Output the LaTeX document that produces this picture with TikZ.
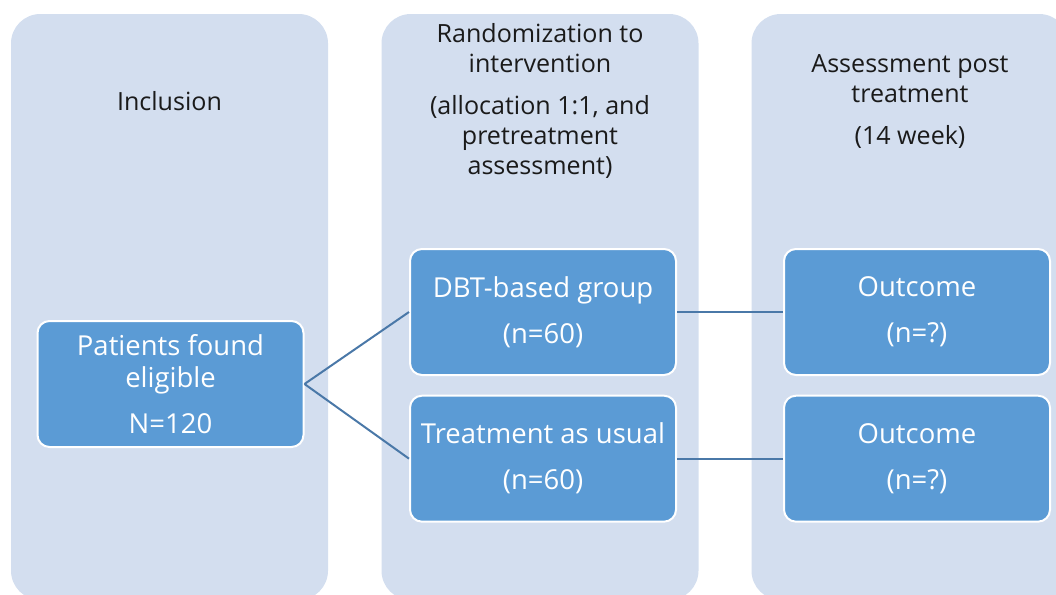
\documentclass[tikz,border=0pt]{standalone}
\usepackage{fontspec}
\setmainfont{Open Sans}
\usepackage{tikz}
\usetikzlibrary{positioning}
\definecolor{lanebg}{HTML}{D3DEEF}
\definecolor{boxblue}{HTML}{5B9BD5}
\definecolor{linkblue}{HTML}{4A78A8}
\definecolor{headtext}{HTML}{1A1A1A}

\begin{document}
\begin{tikzpicture}[
    x=0.75pt, y=-0.75pt,
    node distance=0mm,
    lane/.style={fill=lanebg, rounded corners=22pt, minimum width=237.75pt, minimum height=439.5pt, inner sep=0pt},
    head/.style={align=center, text=headtext, font=\fontsize{18.8}{22.5}\selectfont},
    field/.style={draw=white, line width=1.5pt, rounded corners=9pt, fill=boxblue, text=white, minimum width=199.5pt, minimum height=94.5pt, align=center, font=\fontsize{20.6}{24.5}\selectfont},
    link/.style={draw=linkblue, line width=1.5pt}
]
\clip (0,0) rectangle (1056,594);

% background lanes
\node[lane] (incl) at (169.5,307) {};
\node[lane] (rand) at (540,307) {};
\node[lane] (post) at (910,307) {};

% lane headings
\node[head] (h1) at (169.5,101) {Inclusion};
\node[head] (h2) at (540,101) {Randomization to\\intervention\\[9pt](allocation 1:1, and\\pretreatment\\assessment)};
\node[head] (h3) at (910,101) {Assessment post\\treatment\\[9pt](14 week)};

% boxes
\node[field] (elig) at (170.5,384) {Patients found\\eligible\\[10pt]N=120};
\node[field] (dbt) at (543,312) {DBT-based group\\[10pt](n=60)};
\node[field, below=14pt of dbt] (tau) {Treatment as usual\\[10pt](n=60)};
\node[field, right=79.5pt of dbt] (out1) {Outcome\\[10pt](n=?)};
\node[field, right=79.5pt of tau] (out2) {Outcome\\[10pt](n=?)};

\draw[link] (elig.east) -- (dbt.west);
\draw[link] (elig.east) -- (tau.west);
\draw[link] (dbt.east) -- (out1.west);
\draw[link] (tau.east) -- (out2.west);
\end{tikzpicture}
\end{document}
